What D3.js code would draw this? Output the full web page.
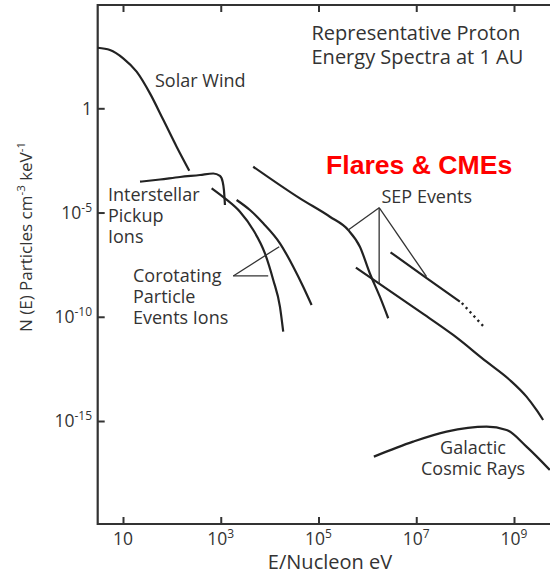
<!DOCTYPE html>
<html>
<head>
<meta charset="utf-8">
<script src="https://cdn.jsdelivr.net/npm/d3@7"></script>
<style>
  html, body { margin: 0; padding: 0; background: #fff; }
  svg { display: block; }
  text { font-family: "Open Sans", sans-serif; fill: #333; }
</style>
</head>
<body>
<svg id="chart" width="550" height="574"></svg>
<script>
// ---------- Data (energy per nucleon in eV, N(E) in particles cm^-3 keV^-1) ----------
const xTickValues = [10, 1e3, 1e5, 1e7, 1e9];
const xTickExponents = ["", "3", "5", "7", "9"];
const yTickValues = [1, 1e-5, 1e-10, 1e-15];
const yTickExponents = ["", "-5", "-10", "-15"];

const solarWindE = [3.04, 5.4, 10.1, 19, 35.6, 66.7, 125, 227];
const solarWindN = [805, 625, 250, 57, 5.2, 0.28, 0.0144, 1.02e-3];

const pickupE = [22.3, 57.1, 147, 376, 703, 964, 1094, 1161, 1219];
const pickupN = [3.02e-4, 3.85e-4, 5.07e-4, 6.32e-4, 7.46e-4, 5.66e-4, 3.02e-4, 1.21e-4, 2.30e-5];

const corotating1E = [652, 1219, 2472, 4624, 8017, 11860, 16250, 18970];
const corotating1N = [1.46e-4, 4.8e-5, 1.1e-5, 1.46e-6, 1.1e-7, 5.8e-9, 3.05e-10, 1.93e-11];

const corotating2E = [2113, 3954, 7396, 16250, 30410, 48640, 72270];
const corotating2N = [4.0e-5, 1.32e-5, 3.05e-6, 3.35e-7, 2.53e-8, 2.78e-9, 3.68e-10];

const sep1E = [4624, 41690, 1.71e5, 4.05e5, 7.03e5, 1.12e6, 1.80e6, 2.67e6];
const sep1N = [1.58e-3, 4.78e-5, 6.3e-6, 1.46e-6, 2.3e-7, 1.22e-8, 9.2e-10, 8.5e-11];

const sep2E = [5.82e5, 1.19e7, 5.69e7, 2.74e8, 8.2e8, 1.80e9, 2.88e9, 3.94e9];
const sep2N = [2.26e-8, 1.76e-10, 1.34e-11, 7.0e-13, 9.3e-14, 1.47e-14, 3.4e-15, 1.12e-15];

const sep3E = [2.98e6, 1.50e7, 7.8e7];
const sep3N = [1.24e-7, 8.1e-9, 5.3e-10];
const sep3DotE = [8.57e7, 2.34e8];
const sep3DotN = [4.6e-10, 3.6e-11];

const gcrE = [1.36e6, 8.65e6, 4.17e7, 2.74e8, 7.03e8, 1.80e9, 5.4e9];
const gcrN = [1.95e-17, 1.02e-16, 3.08e-16, 5.36e-16, 3.72e-16, 5.9e-17, 4.5e-18];

// leader lines (apex, then targets)
const corotLeaderE = [1803, 15700, 9354];
const corotLeaderN = [9.06e-9, 2.30e-7, 9.06e-9];
const sepLeaderE = [1.742e6, 4.05e5, 1.742e6, 1.626e7];
const sepLeaderN = [1.71e-5, 1.46e-6, 4.05e-9, 8.38e-9];

// ---------- Layout ----------
const svg = d3.select("#chart");
const frame = { left: 97.7, top: 5, bottom: 524, right: 556 };

const x = d3.scaleLog().domain([10, 1e9]).range([123, 514]);
const y = d3.scaleLog().domain([1, 1e-15]).range([108.3, 421]);

const zip = (E, N) => E.map((e, i) => ({ e, n: N[i] }));
const line = d3.line().x(d => x(d.e)).y(d => y(d.n)).curve(d3.curveMonotoneX);
const straight = d3.line().x(d => x(d.e)).y(d => y(d.n));

// ---------- Frame & axes ----------
const axisColor = "#333";
const g = svg.append("g");

const bottomAxis = d3.axisBottom(x).tickValues(xTickValues).tickSize(-7).tickFormat("");
const topAxis = d3.axisTop(x).tickValues(xTickValues).tickSize(-7).tickFormat("");
const leftAxis = d3.axisLeft(y).tickValues(yTickValues).tickSize(-7).tickFormat("");

function styleAxis(sel) {
  sel.select(".domain").remove();
  sel.selectAll(".tick line").attr("stroke", axisColor).attr("stroke-width", 2);
}
g.append("g").attr("transform", `translate(0,${frame.bottom})`).call(bottomAxis).call(styleAxis);
g.append("g").attr("transform", `translate(0,${frame.top})`).call(topAxis).call(styleAxis);
g.append("g").attr("transform", `translate(${frame.left},0)`).call(leftAxis).call(styleAxis);

g.append("path")
  .attr("d", `M${frame.right},${frame.top}H${frame.left}V${frame.bottom}H${frame.right}`)
  .attr("fill", "none").attr("stroke", axisColor).attr("stroke-width", 2.2);

// x tick labels
xTickValues.forEach((v, i) => {
  const t = svg.append("text").attr("x", x(v)).attr("y", 545)
    .attr("text-anchor", "middle").style("font-size", "17.5px");
  t.append("tspan").text("10");
  if (xTickExponents[i]) t.append("tspan").attr("dy", -7).style("font-size", "12px").text(xTickExponents[i]);
});

// y tick labels
yTickValues.forEach((v, i) => {
  const t = svg.append("text").attr("x", 92).attr("y", y(v) + 6.3)
    .attr("text-anchor", "end").style("font-size", "17.5px");
  if (yTickExponents[i]) {
    t.append("tspan").text("10");
    t.append("tspan").attr("dy", -7).style("font-size", "12px").text(yTickExponents[i]);
  } else {
    t.text("1");
  }
});

// axis titles
svg.append("text").attr("x", 330).attr("y", 569).attr("text-anchor", "middle")
  .style("font-size", "20px").text("E/Nucleon eV");

const yt = svg.append("text")
  .attr("transform", "translate(32,237) rotate(-90)")
  .attr("text-anchor", "middle").style("font-size", "17px");
yt.append("tspan").text("N (E) Particles cm");
yt.append("tspan").attr("dy", -7).style("font-size", "11.5px").text("-3");
yt.append("tspan").attr("dy", 7).text(" keV");
yt.append("tspan").attr("dy", -7).style("font-size", "11.5px").text("-1");

// ---------- Curves ----------
const curveColor = "#222";
const series = [
  zip(solarWindE, solarWindN),
  zip(pickupE, pickupN),
  zip(corotating1E, corotating1N),
  zip(corotating2E, corotating2N),
  zip(sep1E, sep1N),
  zip(sep2E, sep2N),
  zip(sep3E, sep3N),
  zip(gcrE, gcrN)
];
svg.append("g").selectAll("path").data(series).join("path")
  .attr("d", line)
  .attr("fill", "none").attr("stroke", curveColor).attr("stroke-width", 2.2)
  .attr("stroke-linecap", "butt");

svg.append("path").datum(zip(sep3DotE, sep3DotN))
  .attr("d", straight)
  .attr("fill", "none").attr("stroke", curveColor).attr("stroke-width", 2.4)
  .attr("stroke-dasharray", "2.2 3.6");

// ---------- Leader lines ----------
function leaders(E, N) {
  const pts = zip(E, N);
  const apex = pts[0];
  pts.slice(1).forEach(p => {
    svg.append("path").datum([apex, p]).attr("d", straight)
      .attr("fill", "none").attr("stroke", "#333").attr("stroke-width", 1.3);
  });
}
leaders(corotLeaderE, corotLeaderN);
leaders(sepLeaderE, sepLeaderN);

// ---------- Labels (one text element per line) ----------
function label(lines, x0, y0, dy, size, anchor) {
  lines.forEach((s, i) =>
    svg.append("text").attr("text-anchor", anchor || "start")
      .style("font-size", size + "px")
      .attr("x", x0).attr("y", y0 + i * dy).text(s));
}
label(["Representative Proton", "Energy Spectra at 1 AU"], 311.5, 40, 23.5, 20);
label(["Solar Wind"], 155, 87, 0, 18);
label(["Interstellar", "Pickup", "Ions"], 108, 200.5, 21.3, 18);
label(["Corotating", "Particle", "Events Ions"], 133, 281.5, 21.2, 18);
label(["SEP Events"], 381.5, 202.5, 0, 18);
label(["Galactic", "Cosmic Rays"], 473, 454, 21, 18, "middle");

svg.append("text").attr("x", 326).attr("y", 173.5)
  .style("font-family", "'Liberation Sans', Arial, sans-serif")
  .style("font-weight", "bold").style("font-size", "26.6px").style("fill", "#ff0000")
  .text("Flares & CMEs");
</script>
</body>
</html>
